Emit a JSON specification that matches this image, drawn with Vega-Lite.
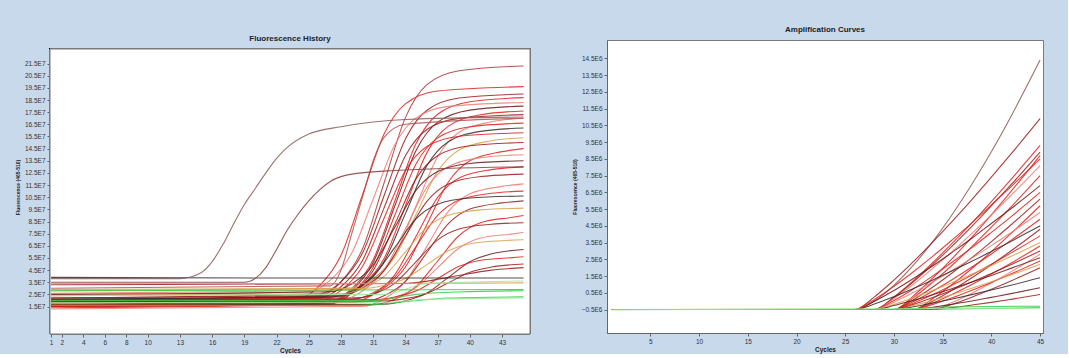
{
"$schema": "https://vega.github.io/schema/vega-lite/v6.json",
"background": "#c9d9ec",
"padding": {"left": 15, "top": 25, "right": 23, "bottom": 0},
"config": {
 "view": {"fill": "white", "stroke": "#7a7a7a", "strokeWidth": 1},
 "font": "Liberation Sans",
 "axis": {"grid": false, "domainColor": "#666", "tickColor": "#666", "tickSize": 3, "labelFontSize": 6.5, "labelColor": "#333", "labelFont": "Liberation Sans", "titleFont": "Liberation Sans", "titleFontSize": 6.5, "titleFontWeight": "bold", "titleColor": "#222", "labelPadding": 2, "labelOverlap": false},
 "title": {"fontSize": 8, "fontWeight": "bold", "color": "#222", "font": "Liberation Sans", "offset": 6},
 "line": {"strokeWidth": 1.1, "opacity": 0.85, "interpolate": "monotone"}
},
"datasets": {
"L": [
{"s":"a01","x":1,"y":2.0},{"s":"a01","x":26,"y":2.39},{"s":"a01","x":28,"y":3.54},{"s":"a01","x":30,"y":6.25},{"s":"a01","x":32,"y":11.65},{"s":"a01","x":34,"y":17.05},{"s":"a01","x":36,"y":19.76},{"s":"a01","x":39,"y":20.91},{"s":"a01","x":45,"y":21.3},
{"s":"a02","x":1,"y":1.8},{"s":"a02","x":24,"y":2.16},{"s":"a02","x":26,"y":3.22},{"s":"a02","x":28,"y":5.72},{"s":"a02","x":30,"y":10.7},{"s":"a02","x":32,"y":15.68},{"s":"a02","x":34,"y":18.18},{"s":"a02","x":37,"y":19.24},{"s":"a02","x":45,"y":19.6},
{"s":"a03","x":1,"y":2.2},{"s":"a03","x":26,"y":2.54},{"s":"a03","x":28,"y":3.54},{"s":"a03","x":30,"y":5.9},{"s":"a03","x":32,"y":10.6},{"s":"a03","x":34,"y":15.3},{"s":"a03","x":36,"y":17.66},{"s":"a03","x":39,"y":18.66},{"s":"a03","x":45,"y":19.0},
{"s":"a04","x":1,"y":1.6},{"s":"a04","x":27,"y":1.94},{"s":"a04","x":29,"y":2.97},{"s":"a04","x":31,"y":5.36},{"s":"a04","x":33,"y":10.15},{"s":"a04","x":35,"y":14.94},{"s":"a04","x":37,"y":17.33},{"s":"a04","x":40,"y":18.36},{"s":"a04","x":45,"y":18.7},
{"s":"a05","x":1,"y":2.4},{"s":"a05","x":25,"y":2.72},{"s":"a05","x":27,"y":3.67},{"s":"a05","x":29,"y":5.9},{"s":"a05","x":31,"y":10.35},{"s":"a05","x":33,"y":14.8},{"s":"a05","x":35,"y":17.03},{"s":"a05","x":38,"y":17.98},{"s":"a05","x":45,"y":18.3},
{"s":"a06","x":1,"y":1.5},{"s":"a06","x":27,"y":1.83},{"s":"a06","x":29,"y":2.82},{"s":"a06","x":31,"y":5.13},{"s":"a06","x":33,"y":9.75},{"s":"a06","x":35,"y":14.37},{"s":"a06","x":37,"y":16.68},{"s":"a06","x":40,"y":17.67},{"s":"a06","x":45,"y":18.0},
{"s":"a07","x":1,"y":2.0},{"s":"a07","x":28,"y":2.31},{"s":"a07","x":30,"y":3.25},{"s":"a07","x":32,"y":5.43},{"s":"a07","x":34,"y":9.8},{"s":"a07","x":36,"y":14.17},{"s":"a07","x":38,"y":16.35},{"s":"a07","x":41,"y":17.29},{"s":"a07","x":45,"y":17.6},
{"s":"a08","x":1,"y":1.9},{"s":"a08","x":26,"y":2.21},{"s":"a08","x":28,"y":3.13},{"s":"a08","x":30,"y":5.29},{"s":"a08","x":32,"y":9.6},{"s":"a08","x":34,"y":13.91},{"s":"a08","x":36,"y":16.07},{"s":"a08","x":39,"y":16.99},{"s":"a08","x":45,"y":17.3},
{"s":"a09","x":1,"y":2.6},{"s":"a09","x":29,"y":2.89},{"s":"a09","x":31,"y":3.75},{"s":"a09","x":33,"y":5.77},{"s":"a09","x":35,"y":9.8},{"s":"a09","x":37,"y":13.83},{"s":"a09","x":39,"y":15.85},{"s":"a09","x":42,"y":16.71},{"s":"a09","x":45,"y":17.0},
{"s":"a10","x":1,"y":1.4},{"s":"a10","x":27,"y":1.7},{"s":"a10","x":29,"y":2.62},{"s":"a10","x":31,"y":4.74},{"s":"a10","x":33,"y":9.0},{"s":"a10","x":35,"y":13.26},{"s":"a10","x":37,"y":15.38},{"s":"a10","x":40,"y":16.3},{"s":"a10","x":45,"y":16.6},
{"s":"a11","x":1,"y":2.1},{"s":"a11","x":28,"y":2.38},{"s":"a11","x":30,"y":3.23},{"s":"a11","x":32,"y":5.2},{"s":"a11","x":34,"y":9.15},{"s":"a11","x":36,"y":13.1},{"s":"a11","x":38,"y":15.07},{"s":"a11","x":41,"y":15.92},{"s":"a11","x":45,"y":16.2},
{"s":"a12","x":1,"y":1.7},{"s":"a12","x":26,"y":1.98},{"s":"a12","x":28,"y":2.83},{"s":"a12","x":30,"y":4.8},{"s":"a12","x":32,"y":8.75},{"s":"a12","x":34,"y":12.7},{"s":"a12","x":36,"y":14.67},{"s":"a12","x":39,"y":15.52},{"s":"a12","x":45,"y":15.8},
{"s":"a13","x":1,"y":2.8},{"s":"a13","x":29,"y":3.05},{"s":"a13","x":31,"y":3.81},{"s":"a13","x":33,"y":5.57},{"s":"a13","x":35,"y":9.1},{"s":"a13","x":37,"y":12.63},{"s":"a13","x":39,"y":14.39},{"s":"a13","x":42,"y":15.15},{"s":"a13","x":45,"y":15.4},
{"s":"a14","x":1,"y":1.5},{"s":"a14","x":27,"y":1.77},{"s":"a14","x":29,"y":2.58},{"s":"a14","x":31,"y":4.47},{"s":"a14","x":33,"y":8.25},{"s":"a14","x":35,"y":12.03},{"s":"a14","x":37,"y":13.92},{"s":"a14","x":40,"y":14.73},{"s":"a14","x":45,"y":15.0},
{"s":"a15","x":1,"y":2.0},{"s":"a15","x":30,"y":2.25},{"s":"a15","x":32,"y":3.0},{"s":"a15","x":34,"y":4.75},{"s":"a15","x":36,"y":8.25},{"s":"a15","x":38,"y":11.75},{"s":"a15","x":40,"y":13.5},{"s":"a15","x":43,"y":14.25},{"s":"a15","x":45,"y":14.5},
{"s":"a16","x":1,"y":1.8},{"s":"a16","x":28,"y":2.04},{"s":"a16","x":30,"y":2.78},{"s":"a16","x":32,"y":4.48},{"s":"a16","x":34,"y":7.9},{"s":"a16","x":36,"y":11.32},{"s":"a16","x":38,"y":13.02},{"s":"a16","x":41,"y":13.76},{"s":"a16","x":45,"y":14.0},
{"s":"a17","x":1,"y":2.5},{"s":"a17","x":27,"y":2.72},{"s":"a17","x":29,"y":3.38},{"s":"a17","x":31,"y":4.92},{"s":"a17","x":33,"y":8.0},{"s":"a17","x":35,"y":11.08},{"s":"a17","x":37,"y":12.62},{"s":"a17","x":40,"y":13.28},{"s":"a17","x":45,"y":13.5},
{"s":"a18","x":1,"y":1.6},{"s":"a18","x":29,"y":1.83},{"s":"a18","x":31,"y":2.51},{"s":"a18","x":33,"y":4.11},{"s":"a18","x":35,"y":7.3},{"s":"a18","x":37,"y":10.49},{"s":"a18","x":39,"y":12.09},{"s":"a18","x":42,"y":12.77},{"s":"a18","x":45,"y":13.0},
{"s":"a19","x":1,"y":2.2},{"s":"a19","x":28,"y":2.4},{"s":"a19","x":30,"y":3.02},{"s":"a19","x":32,"y":4.44},{"s":"a19","x":34,"y":7.3},{"s":"a19","x":36,"y":10.16},{"s":"a19","x":38,"y":11.58},{"s":"a19","x":41,"y":12.2},{"s":"a19","x":45,"y":12.4},
{"s":"a20","x":1,"y":1.3},{"s":"a20","x":30,"y":1.51},{"s":"a20","x":32,"y":2.12},{"s":"a20","x":34,"y":3.57},{"s":"a20","x":36,"y":6.45},{"s":"a20","x":38,"y":9.33},{"s":"a20","x":40,"y":10.78},{"s":"a20","x":43,"y":11.39},{"s":"a20","x":45,"y":11.6},
{"s":"a21","x":1,"y":1.9},{"s":"a21","x":29,"y":2.08},{"s":"a21","x":31,"y":2.63},{"s":"a21","x":33,"y":3.9},{"s":"a21","x":35,"y":6.45},{"s":"a21","x":37,"y":9.0},{"s":"a21","x":39,"y":10.27},{"s":"a21","x":42,"y":10.82},{"s":"a21","x":45,"y":11.0},
{"s":"a22","x":1,"y":2.1},{"s":"a22","x":27,"y":2.27},{"s":"a22","x":29,"y":2.78},{"s":"a22","x":31,"y":3.97},{"s":"a22","x":33,"y":6.35},{"s":"a22","x":35,"y":8.73},{"s":"a22","x":37,"y":9.92},{"s":"a22","x":40,"y":10.43},{"s":"a22","x":45,"y":10.6},
{"s":"a23","x":1,"y":1.7},{"s":"a23","x":30,"y":1.87},{"s":"a23","x":32,"y":2.38},{"s":"a23","x":34,"y":3.57},{"s":"a23","x":36,"y":5.95},{"s":"a23","x":38,"y":8.33},{"s":"a23","x":40,"y":9.52},{"s":"a23","x":43,"y":10.03},{"s":"a23","x":45,"y":10.2},
{"s":"a24","x":1,"y":2.4},{"s":"a24","x":28,"y":2.54},{"s":"a24","x":30,"y":2.98},{"s":"a24","x":32,"y":3.98},{"s":"a24","x":34,"y":6.0},{"s":"a24","x":36,"y":8.02},{"s":"a24","x":38,"y":9.02},{"s":"a24","x":41,"y":9.46},{"s":"a24","x":45,"y":9.6},
{"s":"a25","x":1,"y":1.5},{"s":"a25","x":31,"y":1.65},{"s":"a25","x":33,"y":2.1},{"s":"a25","x":35,"y":3.15},{"s":"a25","x":37,"y":5.25},{"s":"a25","x":39,"y":7.35},{"s":"a25","x":41,"y":8.4},{"s":"a25","x":44,"y":8.85},{"s":"a25","x":45,"y":9.0},
{"s":"a26","x":1,"y":2.0},{"s":"a26","x":29,"y":2.13},{"s":"a26","x":31,"y":2.51},{"s":"a26","x":33,"y":3.41},{"s":"a26","x":35,"y":5.2},{"s":"a26","x":37,"y":6.99},{"s":"a26","x":39,"y":7.89},{"s":"a26","x":42,"y":8.27},{"s":"a26","x":45,"y":8.4},
{"s":"a27","x":1,"y":1.8},{"s":"a27","x":31,"y":1.92},{"s":"a27","x":33,"y":2.26},{"s":"a27","x":35,"y":3.08},{"s":"a27","x":37,"y":4.7},{"s":"a27","x":39,"y":6.32},{"s":"a27","x":41,"y":7.14},{"s":"a27","x":44,"y":7.48},{"s":"a27","x":45,"y":7.6},
{"s":"a28","x":1,"y":2.9},{"s":"a28","x":30,"y":2.98},{"s":"a28","x":32,"y":3.23},{"s":"a28","x":34,"y":3.8},{"s":"a28","x":36,"y":4.95},{"s":"a28","x":38,"y":6.1},{"s":"a28","x":40,"y":6.67},{"s":"a28","x":43,"y":6.92},{"s":"a28","x":45,"y":7.0},
{"s":"a29","x":1,"y":1.6},{"s":"a29","x":32,"y":1.69},{"s":"a29","x":34,"y":1.97},{"s":"a29","x":36,"y":2.61},{"s":"a29","x":38,"y":3.9},{"s":"a29","x":40,"y":5.19},{"s":"a29","x":42,"y":5.83},{"s":"a29","x":45,"y":6.2},
{"s":"a30","x":1,"y":2.0},{"s":"a30","x":31,"y":2.07},{"s":"a30","x":33,"y":2.29},{"s":"a30","x":35,"y":2.79},{"s":"a30","x":37,"y":3.8},{"s":"a30","x":39,"y":4.81},{"s":"a30","x":41,"y":5.31},{"s":"a30","x":44,"y":5.53},{"s":"a30","x":45,"y":5.6},
{"s":"a31","x":1,"y":1.9},{"s":"a31","x":32,"y":1.96},{"s":"a31","x":34,"y":2.15},{"s":"a31","x":36,"y":2.58},{"s":"a31","x":38,"y":3.45},{"s":"a31","x":40,"y":4.32},{"s":"a31","x":42,"y":4.75},{"s":"a31","x":45,"y":5.0},
{"s":"a32","x":1,"y":3.3},{"s":"a32","x":34,"y":3.4},{"s":"a32","x":38,"y":3.9},{"s":"a32","x":42,"y":4.5},{"s":"a32","x":45,"y":4.7},
{"s":"a33","x":1,"y":3.9},{"s":"a33","x":20,"y":3.85},{"s":"a33","x":45,"y":3.85},
{"s":"a34","x":1,"y":3.8},{"s":"a34","x":13,"y":3.8},{"s":"a34","x":15,"y":4.3},{"s":"a34","x":16,"y":5.2},{"s":"a34","x":17,"y":6.6},{"s":"a34","x":18,"y":8.3},{"s":"a34","x":19,"y":9.9},{"s":"a34","x":20,"y":11.2},{"s":"a34","x":21,"y":12.5},{"s":"a34","x":22,"y":13.7},{"s":"a34","x":23,"y":14.6},{"s":"a34","x":25,"y":15.7},{"s":"a34","x":28,"y":16.3},{"s":"a34","x":34,"y":16.9},{"s":"a34","x":45,"y":17.1},
{"s":"a35","x":1,"y":3.5},{"s":"a35","x":19,"y":3.5},{"s":"a35","x":20,"y":3.8},{"s":"a35","x":21,"y":4.7},{"s":"a35","x":22,"y":6.2},{"s":"a35","x":23,"y":7.8},{"s":"a35","x":24,"y":9.1},{"s":"a35","x":25,"y":10.2},{"s":"a35","x":26,"y":11.1},{"s":"a35","x":27,"y":11.8},{"s":"a35","x":29,"y":12.4},{"s":"a35","x":33,"y":12.7},{"s":"a35","x":45,"y":13.0},
{"s":"a36","x":1,"y":3.0},{"s":"a36","x":27,"y":3.2},{"s":"a36","x":28,"y":4.5},{"s":"a36","x":29,"y":7.5},{"s":"a36","x":30,"y":10.5},{"s":"a36","x":31,"y":13.5},{"s":"a36","x":32,"y":15.4},{"s":"a36","x":34,"y":16.5},{"s":"a36","x":45,"y":17.0},
{"s":"a37","x":1,"y":3.4},{"s":"a37","x":30,"y":3.4},{"s":"a37","x":45,"y":3.45},
{"s":"a38","x":1,"y":1.6},{"s":"a38","x":30,"y":1.6},{"s":"a38","x":34,"y":1.9},{"s":"a38","x":38,"y":2.2},{"s":"a38","x":45,"y":2.3},
{"s":"a39","x":1,"y":2.0},{"s":"a39","x":31,"y":2.0},{"s":"a39","x":35,"y":2.5},{"s":"a39","x":39,"y":2.7},{"s":"a39","x":45,"y":2.8},
{"s":"a40","x":1,"y":1.8},{"s":"a40","x":32,"y":1.85},{"s":"a40","x":36,"y":2.1},{"s":"a40","x":45,"y":2.2},
{"s":"a41","x":1,"y":2.4},{"s":"a41","x":32,"y":2.5},{"s":"a41","x":36,"y":3.4},{"s":"a41","x":45,"y":3.6},
{"s":"a42","x":1,"y":2.8},{"s":"a42","x":45,"y":2.9}
],
"R": [
{"s":"b01","x":1,"y":-0.5},{"s":"b01","x":26,"y":-0.5},{"s":"b01","x":28,"y":0.01},{"s":"b01","x":30,"y":0.95},{"s":"b01","x":32,"y":2.15},{"s":"b01","x":34,"y":3.57},{"s":"b01","x":36,"y":5.19},{"s":"b01","x":38,"y":6.98},{"s":"b01","x":40,"y":8.92},{"s":"b01","x":42,"y":11.02},{"s":"b01","x":45,"y":14.4},
{"s":"b02","x":1,"y":-0.5},{"s":"b02","x":26,"y":-0.5},{"s":"b02","x":28,"y":0.26},{"s":"b02","x":30,"y":1.26},{"s":"b02","x":32,"y":2.36},{"s":"b02","x":34,"y":3.54},{"s":"b02","x":36,"y":4.78},{"s":"b02","x":38,"y":6.07},{"s":"b02","x":40,"y":7.41},{"s":"b02","x":42,"y":8.78},{"s":"b02","x":45,"y":10.9},
{"s":"b03","x":1,"y":-0.5},{"s":"b03","x":28,"y":-0.5},{"s":"b03","x":30,"y":0.25},{"s":"b03","x":32,"y":1.22},{"s":"b03","x":34,"y":2.31},{"s":"b03","x":36,"y":3.47},{"s":"b03","x":38,"y":4.68},{"s":"b03","x":40,"y":5.95},{"s":"b03","x":42,"y":7.26},{"s":"b03","x":45,"y":9.3},
{"s":"b04","x":1,"y":-0.5},{"s":"b04","x":28,"y":-0.5},{"s":"b04","x":30,"y":0.22},{"s":"b04","x":32,"y":1.15},{"s":"b04","x":34,"y":2.2},{"s":"b04","x":36,"y":3.31},{"s":"b04","x":38,"y":4.47},{"s":"b04","x":40,"y":5.69},{"s":"b04","x":42,"y":6.94},{"s":"b04","x":45,"y":8.9},
{"s":"b05","x":1,"y":-0.5},{"s":"b05","x":30,"y":-0.5},{"s":"b05","x":32,"y":0.32},{"s":"b05","x":34,"y":1.39},{"s":"b05","x":36,"y":2.56},{"s":"b05","x":38,"y":3.82},{"s":"b05","x":40,"y":5.16},{"s":"b05","x":42,"y":6.54},{"s":"b05","x":45,"y":8.7},
{"s":"b06","x":1,"y":-0.5},{"s":"b06","x":28,"y":-0.5},{"s":"b06","x":30,"y":0.16},{"s":"b06","x":32,"y":1.01},{"s":"b06","x":34,"y":1.97},{"s":"b06","x":36,"y":2.98},{"s":"b06","x":38,"y":4.05},{"s":"b06","x":40,"y":5.16},{"s":"b06","x":42,"y":6.31},{"s":"b06","x":45,"y":8.1},
{"s":"b07","x":1,"y":-0.5},{"s":"b07","x":30,"y":-0.5},{"s":"b07","x":32,"y":0.21},{"s":"b07","x":34,"y":1.14},{"s":"b07","x":36,"y":2.16},{"s":"b07","x":38,"y":3.26},{"s":"b07","x":40,"y":4.42},{"s":"b07","x":42,"y":5.62},{"s":"b07","x":45,"y":7.5},
{"s":"b08","x":1,"y":-0.5},{"s":"b08","x":26,"y":-0.5},{"s":"b08","x":28,"y":0.0},{"s":"b08","x":30,"y":0.64},{"s":"b08","x":32,"y":1.36},{"s":"b08","x":34,"y":2.12},{"s":"b08","x":36,"y":2.93},{"s":"b08","x":38,"y":3.76},{"s":"b08","x":40,"y":4.64},{"s":"b08","x":42,"y":5.52},{"s":"b08","x":45,"y":6.9},
{"s":"b09","x":1,"y":-0.5},{"s":"b09","x":28,"y":-0.5},{"s":"b09","x":30,"y":0.04},{"s":"b09","x":32,"y":0.73},{"s":"b09","x":34,"y":1.51},{"s":"b09","x":36,"y":2.34},{"s":"b09","x":38,"y":3.2},{"s":"b09","x":40,"y":4.11},{"s":"b09","x":42,"y":5.04},{"s":"b09","x":45,"y":6.5},
{"s":"b10","x":1,"y":-0.5},{"s":"b10","x":30,"y":-0.5},{"s":"b10","x":32,"y":0.09},{"s":"b10","x":34,"y":0.85},{"s":"b10","x":36,"y":1.7},{"s":"b10","x":38,"y":2.6},{"s":"b10","x":40,"y":3.56},{"s":"b10","x":42,"y":4.55},{"s":"b10","x":45,"y":6.1},
{"s":"b11","x":1,"y":-0.5},{"s":"b11","x":32,"y":-0.5},{"s":"b11","x":34,"y":0.16},{"s":"b11","x":36,"y":1.01},{"s":"b11","x":38,"y":1.95},{"s":"b11","x":40,"y":2.96},{"s":"b11","x":42,"y":4.03},{"s":"b11","x":45,"y":5.7},
{"s":"b12","x":1,"y":-0.5},{"s":"b12","x":28,"y":-0.5},{"s":"b12","x":30,"y":-0.06},{"s":"b12","x":32,"y":0.52},{"s":"b12","x":34,"y":1.16},{"s":"b12","x":36,"y":1.85},{"s":"b12","x":38,"y":2.57},{"s":"b12","x":40,"y":3.32},{"s":"b12","x":42,"y":4.09},{"s":"b12","x":45,"y":5.3},
{"s":"b13","x":1,"y":-0.5},{"s":"b13","x":30,"y":-0.5},{"s":"b13","x":32,"y":-0.02},{"s":"b13","x":34,"y":0.61},{"s":"b13","x":36,"y":1.3},{"s":"b13","x":38,"y":2.04},{"s":"b13","x":40,"y":2.82},{"s":"b13","x":42,"y":3.63},{"s":"b13","x":45,"y":4.9},
{"s":"b14","x":1,"y":-0.5},{"s":"b14","x":26,"y":-0.5},{"s":"b14","x":28,"y":-0.17},{"s":"b14","x":30,"y":0.27},{"s":"b14","x":32,"y":0.76},{"s":"b14","x":34,"y":1.27},{"s":"b14","x":36,"y":1.82},{"s":"b14","x":38,"y":2.38},{"s":"b14","x":40,"y":2.97},{"s":"b14","x":42,"y":3.57},{"s":"b14","x":45,"y":4.5},
{"s":"b15","x":1,"y":-0.5},{"s":"b15","x":32,"y":-0.5},{"s":"b15","x":34,"y":0.01},{"s":"b15","x":36,"y":0.67},{"s":"b15","x":38,"y":1.4},{"s":"b15","x":40,"y":2.18},{"s":"b15","x":42,"y":3.0},{"s":"b15","x":45,"y":4.3},
{"s":"b16","x":1,"y":-0.5},{"s":"b16","x":30,"y":-0.5},{"s":"b16","x":32,"y":-0.11},{"s":"b16","x":34,"y":0.4},{"s":"b16","x":36,"y":0.97},{"s":"b16","x":38,"y":1.57},{"s":"b16","x":40,"y":2.21},{"s":"b16","x":42,"y":2.87},{"s":"b16","x":45,"y":3.9},
{"s":"b17","x":1,"y":-0.5},{"s":"b17","x":28,"y":-0.5},{"s":"b17","x":30,"y":-0.19},{"s":"b17","x":32,"y":0.2},{"s":"b17","x":34,"y":0.65},{"s":"b17","x":36,"y":1.12},{"s":"b17","x":38,"y":1.62},{"s":"b17","x":40,"y":2.13},{"s":"b17","x":42,"y":2.67},{"s":"b17","x":45,"y":3.5},
{"s":"b18","x":1,"y":-0.5},{"s":"b18","x":32,"y":-0.5},{"s":"b18","x":34,"y":-0.1},{"s":"b18","x":36,"y":0.42},{"s":"b18","x":38,"y":1.0},{"s":"b18","x":40,"y":1.62},{"s":"b18","x":42,"y":2.27},{"s":"b18","x":45,"y":3.3},
{"s":"b19","x":1,"y":-0.5},{"s":"b19","x":30,"y":-0.5},{"s":"b19","x":32,"y":-0.19},{"s":"b19","x":34,"y":0.22},{"s":"b19","x":36,"y":0.67},{"s":"b19","x":38,"y":1.15},{"s":"b19","x":40,"y":1.65},{"s":"b19","x":42,"y":2.18},{"s":"b19","x":45,"y":3.0},
{"s":"b20","x":1,"y":-0.5},{"s":"b20","x":34,"y":-0.5},{"s":"b20","x":36,"y":-0.07},{"s":"b20","x":38,"y":0.48},{"s":"b20","x":40,"y":1.09},{"s":"b20","x":42,"y":1.75},{"s":"b20","x":45,"y":2.8},
{"s":"b21","x":1,"y":-0.5},{"s":"b21","x":28,"y":-0.5},{"s":"b21","x":30,"y":-0.26},{"s":"b21","x":32,"y":0.05},{"s":"b21","x":34,"y":0.39},{"s":"b21","x":36,"y":0.76},{"s":"b21","x":38,"y":1.14},{"s":"b21","x":40,"y":1.54},{"s":"b21","x":42,"y":1.96},{"s":"b21","x":45,"y":2.6},
{"s":"b22","x":1,"y":-0.5},{"s":"b22","x":32,"y":-0.5},{"s":"b22","x":34,"y":-0.19},{"s":"b22","x":36,"y":0.2},{"s":"b22","x":38,"y":0.65},{"s":"b22","x":40,"y":1.12},{"s":"b22","x":42,"y":1.62},{"s":"b22","x":45,"y":2.4},
{"s":"b23","x":1,"y":-0.5},{"s":"b23","x":30,"y":-0.5},{"s":"b23","x":32,"y":-0.26},{"s":"b23","x":34,"y":0.05},{"s":"b23","x":36,"y":0.4},{"s":"b23","x":38,"y":0.77},{"s":"b23","x":40,"y":1.16},{"s":"b23","x":42,"y":1.57},{"s":"b23","x":45,"y":2.2},
{"s":"b24","x":1,"y":-0.5},{"s":"b24","x":34,"y":-0.5},{"s":"b24","x":36,"y":-0.18},{"s":"b24","x":38,"y":0.24},{"s":"b24","x":40,"y":0.71},{"s":"b24","x":42,"y":1.21},{"s":"b24","x":45,"y":2.0},
{"s":"b25","x":1,"y":-0.5},{"s":"b25","x":30,"y":-0.5},{"s":"b25","x":32,"y":-0.33},{"s":"b25","x":34,"y":-0.11},{"s":"b25","x":36,"y":0.13},{"s":"b25","x":38,"y":0.39},{"s":"b25","x":40,"y":0.67},{"s":"b25","x":42,"y":0.95},{"s":"b25","x":45,"y":1.4},
{"s":"b26","x":1,"y":-0.5},{"s":"b26","x":32,"y":-0.5},{"s":"b26","x":34,"y":-0.36},{"s":"b26","x":36,"y":-0.18},{"s":"b26","x":38,"y":0.01},{"s":"b26","x":40,"y":0.23},{"s":"b26","x":42,"y":0.45},{"s":"b26","x":45,"y":0.8},
{"s":"b27","x":1,"y":-0.5},{"s":"b27","x":34,"y":-0.5},{"s":"b27","x":36,"y":-0.38},{"s":"b27","x":38,"y":-0.23},{"s":"b27","x":40,"y":-0.07},{"s":"b27","x":42,"y":0.11},{"s":"b27","x":45,"y":0.4},
{"s":"b28","x":1,"y":-0.5},{"s":"b28","x":26,"y":-0.5},{"s":"b28","x":28,"y":0.1},{"s":"b28","x":30,"y":0.89},{"s":"b28","x":32,"y":1.76},{"s":"b28","x":34,"y":2.69},{"s":"b28","x":36,"y":3.67},{"s":"b28","x":38,"y":4.68},{"s":"b28","x":40,"y":5.75},{"s":"b28","x":42,"y":6.83},{"s":"b28","x":45,"y":8.5},
{"s":"b29","x":1,"y":-0.5},{"s":"b29","x":30,"y":-0.5},{"s":"b29","x":35,"y":-0.35},{"s":"b29","x":45,"y":-0.3},
{"s":"b30","x":1,"y":-0.5},{"s":"b30","x":32,"y":-0.48},{"s":"b30","x":45,"y":-0.38},
{"s":"b31","x":1,"y":-0.52},{"s":"b31","x":45,"y":-0.42}
]
},
"hconcat": [
{
 "title": {"text": "Fluorescence History", "offset": -3},
 "width": 480, "height": 294,
 "view": {"fill": null, "stroke": null},
 "data": {"name": "L"},
 "layer": [
  {
   "mark": {"type": "rect", "fill": "white", "stroke": "#7a7a7a", "strokeWidth": 1},
   "encoding": {
    "x": {"datum": 0.9, "type": "quantitative", "axis": {"tickCount": 100, "format": "d"}}, "x2": {"datum": 45.6},
    "y": {"datum": -0.76, "type": "quantitative", "axis": {"tickCount": 100}}, "y2": {"datum": 22.7}
   }
  },
  {
   "mark": {"type": "line"},
   "encoding": {
    "x": {"field": "x", "type": "quantitative", "scale": {"domain": [0.9, 45.6], "nice": false, "zero": false}, "axis": {"values": [1,2,4,6,8,10,13,16,19,22,25,28,31,34,37,40,43], "tickCount": 100, "format": "d", "title": "Cycles", "titlePadding": 2, "domain": false, "labelOverlap": false}},
    "y": {"field": "y", "type": "quantitative", "scale": {"domain": [-0.76, 23.44], "nice": false, "zero": false}, "axis": {"values": [1.5,2.5,3.5,4.5,5.5,6.5,7.5,8.5,9.5,10.5,11.5,12.5,13.5,14.5,15.5,16.5,17.5,18.5,19.5,20.5,21.5], "tickCount": 100, "labelExpr": "format(datum.value, '.1f') + 'E7'", "title": "Fluorescence (465-510)", "titleFontSize": 5, "titlePadding": 4, "domain": false, "labelOverlap": false}},
    "color": {"field": "s", "type": "nominal", "legend": null, "scale": {"range": ["#a83a3a","#e0201c","#9b1c1c","#e0201c","#ee7a72","#6a1a1a","#e0201c","#9b1c1c","#ee7a72","#e0201c","#3a2a2a","#e0201c","#d8a048","#9b1c1c","#e0201c","#ee7a72","#6a1a1a","#e0201c","#9b1c1c","#ee7a72","#e0201c","#3a2a2a","#9b1c1c","#d8a048","#e0201c","#9b1c1c","#ee7a72","#d8a048","#6a1a1a","#e0201c","#9b1c1c","#9b1c1c","#3a2a2a","#8a5a55","#8a3a3a","#b05050","#d8a048","#2ecc40","#2ecc40","#9ee89e","#9ee89e","#2ecc40"]}}
   }
  }
 ]
},
{
 "title": "Amplification Curves",
 "width": 436, "height": 293,
 "data": {"name": "R"},
 "mark": {"type": "line"},
 "encoding": {
  "x": {"field": "x", "type": "quantitative", "scale": {"domain": [0.55, 45.3], "nice": false, "zero": false}, "axis": {"values": [5,10,15,20,25,30,35,40,45], "title": "Cycles", "titlePadding": 2}},
  "y": {"field": "y", "type": "quantitative", "scale": {"domain": [-1.9, 15.6], "nice": false, "zero": false}, "axis": {"values": [-0.5,0.5,1.5,2.5,3.5,4.5,5.5,6.5,7.5,8.5,9.5,10.5,11.5,12.5,13.5,14.5], "labelExpr": "format(datum.value, '.1f') + 'E6'", "title": "Fluorescence (465-510)", "titleFontSize": 5, "titlePadding": 4}},
  "color": {"field": "s", "type": "nominal", "legend": null, "scale": {"range": ["#8a5a55","#9b1c1c","#e0201c","#9b1c1c","#e0201c","#ee7a72","#e0201c","#6a1a1a","#e0201c","#9b1c1c","#e0201c","#ee7a72","#e0201c","#3a2a2a","#9b1c1c","#e0201c","#d8a048","#e0201c","#9b1c1c","#ee7a72","#6a1a1a","#e0201c","#d8a048","#9b1c1c","#3a2a2a","#6a1a1a","#9b1c1c","#e0201c","#2ecc40","#2ecc40","#9ee89e"]}}
 }
}
],
"spacing": 40,
"resolve": {"scale": {"color": "independent"}}
}
